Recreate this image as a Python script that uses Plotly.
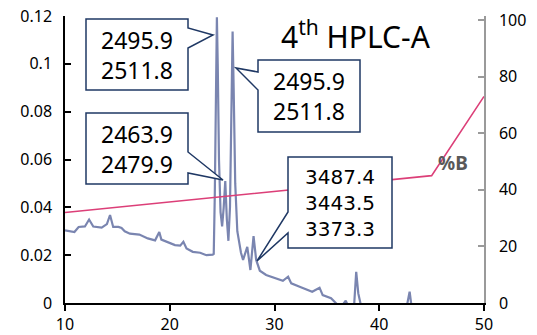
import plotly.graph_objects as go

# ---- data ----
time_min = [10.0, 10.9, 11.3, 11.9, 12.3, 12.7, 13.5, 14.0, 14.3, 14.6, 15.1, 15.4, 15.7, 16.2,
            17.1, 17.9, 18.6, 19.0, 19.2, 19.7, 20.5, 21.0, 21.3, 21.6, 22.2, 22.9, 23.5, 24.1,
            24.2, 24.3, 24.42, 24.5, 24.58, 24.7, 24.85, 25.0, 25.15, 25.3, 25.45, 25.6, 25.75,
            25.9, 26.0, 26.1, 26.25, 26.45, 26.8, 27.0, 27.4, 27.7, 28.0, 28.25, 28.6, 29.2,
            30.2, 30.8, 31.3, 31.6, 32.4, 33.6, 34.3, 34.6, 35.4, 35.9, 36.3, 36.8, 37.1, 37.6,
            37.8, 38.0, 38.3, 42.6, 42.9, 43.1, 50.0]
absorbance = [0.0304, 0.0297, 0.0318, 0.0320, 0.0349, 0.0320, 0.0315, 0.0330, 0.0368, 0.0318,
              0.0318, 0.0314, 0.0300, 0.0290, 0.0286, 0.0270, 0.0262, 0.0297, 0.0265, 0.0256,
              0.0242, 0.0240, 0.0256, 0.0228, 0.0214, 0.0210, 0.0200, 0.0202, 0.0205, 0.0450,
              0.1050, 0.1195, 0.1000, 0.0600, 0.0380, 0.0320, 0.0400, 0.0510, 0.0350, 0.0260,
              0.0400, 0.0850, 0.1135, 0.0900, 0.0500, 0.0300, 0.0210, 0.0180, 0.0235, 0.0138,
              0.0280, 0.0180, 0.0135, 0.0117, 0.0103, 0.0093, 0.0110, 0.0082, 0.0068, 0.0047,
              0.0064, 0.0033, 0.0020, 0.0000, -0.0020, 0.0010, -0.0020, -0.0010, 0.0130, 0.0040,
              -0.0020, -0.0020, 0.0047, -0.0020, -0.0020]

gradient_time = [10, 45, 50]
gradient_pct_b = [32, 45, 73]

left_tickvals = [0, 0.02, 0.04, 0.06, 0.08, 0.1, 0.12]
left_ticktext = ["0", "0.02", "0.04", "0.06", "0.08", "0.1", "0.12"]
right_tickvals = [0, 20, 40, 60, 80, 100]
x_tickvals = [10, 20, 30, 40, 50]

callout_texts = [["2495.9", "2511.8"], ["2495.9", "2511.8"], ["2463.9", "2479.9"],
                 ["3487.4", "3443.5", "3373.3"]]
title_text = "4<sup>th</sup> HPLC-A"

# ---- layout geometry (page pixels; the page body adds an 8 px offset) ----
OFF = 8
PAGE_W, PAGE_H = 537, 335
ML, MR, MT, MB = 65, 53, 16, 32          # plot-area edges in page pixels
PW, PH = PAGE_W - ML - MR, PAGE_H - MT - MB
X0, X1 = 10, 50
Y0, Y1 = 0, 0.12


def px2x(px):
    return X0 + (px - ML) / PW * (X1 - X0)


def py2y(py):
    return Y1 - (py - MT) / PH * (Y1 - Y0)


# callout boxes in page-pixel geometry: box rect, side of the pointer, pointer y range, tip
callouts = [
    dict(box=(86, 19, 188, 90), side="right", p=(28, 48), tip=(213, 35),
         font=dict(family="Noto Sans", size=23, color="black")),
    dict(box=(258, 60, 360, 132), side="left", p=(72, 90), tip=(236, 68),
         font=dict(family="Noto Sans", size=23, color="black")),
    dict(box=(86, 113, 188, 184), side="right", p=(152, 173), tip=(223, 180),
         font=dict(family="Noto Sans", size=23, color="black")),
    dict(box=(288, 157, 392, 248), side="left", p=(212, 233), tip=(257, 261),
         font=dict(family="DejaVu Sans", size=20, color="black")),
]

fig = go.Figure()
fig.add_trace(go.Scatter(x=time_min, y=absorbance, mode="lines",
                         line=dict(color="#7a85b0", width=2.2), showlegend=False))
fig.add_trace(go.Scatter(x=gradient_time, y=gradient_pct_b, mode="lines", yaxis="y2",
                         line=dict(color="#dc3f78", width=1.6), showlegend=False))

shapes = []
annotations = []
for c, lines in zip(callouts, callout_texts):
    x0, y0, x1, y1 = c["box"]
    pa, pb = c["p"]
    tx, ty = c["tip"]
    if c["side"] == "right":
        pts = [(x0, y0), (x1, y0), (x1, pa), (tx, ty), (x1, pb), (x1, y1), (x0, y1)]
    else:
        pts = [(x0, y0), (x1, y0), (x1, y1), (x0, y1), (x0, pb), (tx, ty), (x0, pa)]
    path = "M " + " L ".join(f"{px2x(a):.4f},{py2y(b):.6f}" for a, b in pts) + " Z"
    shapes.append(dict(type="path", path=path, xref="x", yref="y",
                       line=dict(color="#1f3864", width=1.5), fillcolor="white", layer="above"))
    annotations.append(dict(x=px2x((x0 + x1) / 2), y=py2y((y0 + y1) / 2), xref="x", yref="y",
                            text="<br>".join(lines), showarrow=False, align="center",
                            xanchor="center", yanchor="middle", font=c["font"]))

annotations.append(dict(x=px2x(356), y=py2y(35), xref="x", yref="y", text=title_text,
                        showarrow=False, xanchor="center", yanchor="middle",
                        font=dict(family="Noto Sans", size=30, color="black")))
annotations.append(dict(x=px2x(453), y=py2y(163), xref="x", yref="y", text="<b>%B</b>",
                        showarrow=False, xanchor="center", yanchor="middle",
                        font=dict(family="Noto Sans", size=19, color="#595959")))

fig.update_layout(
    width=PAGE_W - OFF, height=PAGE_H - OFF,
    margin=dict(l=ML - OFF, r=MR, t=MT - OFF, b=MB, pad=0, autoexpand=False),
    paper_bgcolor="white", plot_bgcolor="white",
    shapes=shapes, annotations=annotations,
    xaxis=dict(range=[X0, X1], tickvals=x_tickvals, showgrid=False, zeroline=False,
               automargin=False, ticklabeloverflow="allow",
               showline=True, linecolor="black", linewidth=1.5, ticks="outside",
               ticklen=6, tickcolor="black", tickwidth=1.5,
               tickfont=dict(family="Noto Sans", size=16, color="black")),
    yaxis=dict(range=[Y0, Y1], tickvals=left_tickvals, ticktext=left_ticktext,
               automargin=False, ticklabeloverflow="allow",
               showgrid=False, zeroline=False, showline=True, linecolor="black",
               linewidth=1.5, ticks="inside", ticklen=6, tickcolor="black", tickwidth=1.5,
               ticklabelstandoff=8,
               tickfont=dict(family="Noto Sans", size=16, color="black")),
    yaxis2=dict(range=[0, 101.4], tickvals=right_tickvals, overlaying="y", side="right",
                automargin=False, ticklabeloverflow="allow",
                showgrid=False, zeroline=False, showline=True, linecolor="#9a9a9a",
                linewidth=1.5, ticks="inside", ticklen=6, tickcolor="#9a9a9a", tickwidth=1.5,
                ticklabelstandoff=10,
                tickfont=dict(family="Noto Sans", size=16, color="black")),
)

fig.write_html("out.html")
